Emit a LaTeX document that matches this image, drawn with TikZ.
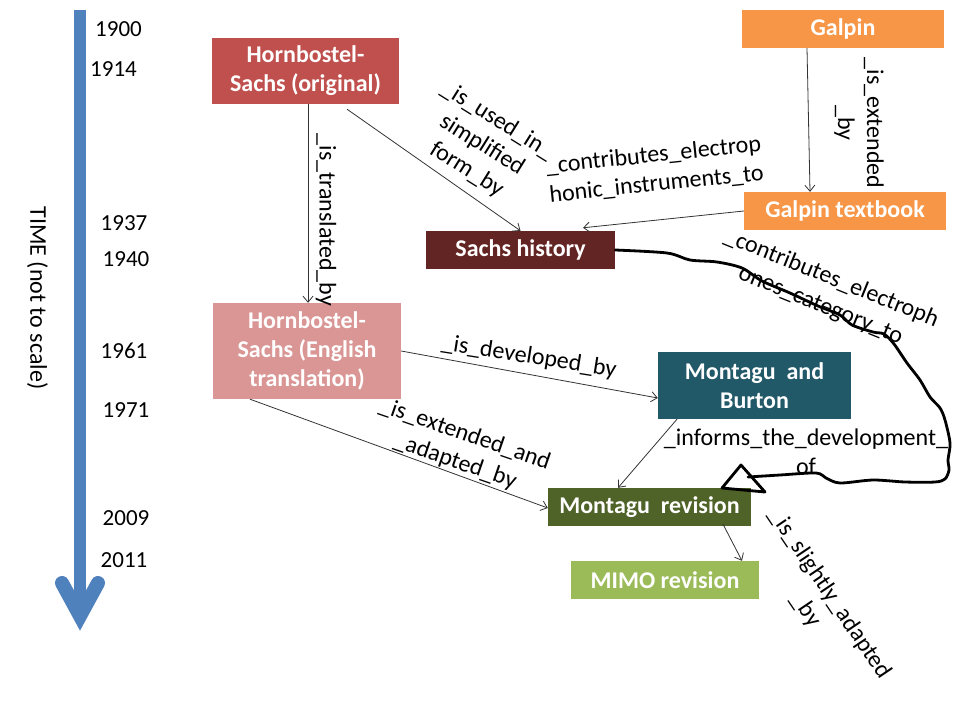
\documentclass[tikz,border=0pt]{standalone}
\usepackage{fontspec}
\setmainfont{Carlito}
\usetikzlibrary{arrows.meta,calc}
\definecolor{hsored}{HTML}{C0504D}
\definecolor{galor}{HTML}{F79646}
\definecolor{sachsred}{HTML}{632523}
\definecolor{hsepink}{HTML}{D99694}
\definecolor{mabteal}{HTML}{215968}
\definecolor{mrevgreen}{HTML}{4F6228}
\definecolor{mimogreen}{HTML}{9BBB59}
\definecolor{timeblue}{HTML}{4F81BD}
\begin{document}
\begin{tikzpicture}[x=1pt,y=-1pt,
  box/.style={fill=#1, text=white, font=\bfseries\fontsize{24}{29}\selectfont, align=center, inner sep=0pt},
  lab/.style={font=\fontsize{24}{29}\selectfont, align=center, inner sep=0pt},
  yr/.style={font=\fontsize{23}{27}\selectfont, inner sep=0pt},
  conn/.style={draw=black!80, line width=0.8pt, -{Straight Barb[length=6pt,width=10pt]}},
  hand/.style={draw=black, line width=2.8pt, line cap=round, line join=round}]
\useasboundingbox (0,0) rectangle (960,720);

% time arrow
\fill[timeblue] (74,10) rectangle (86,612);
\draw[timeblue, line width=14pt, line cap=round, line join=miter] (62,583) -- (80,616) -- (98,583);
\node[lab, rotate=-90] (time) at (37.5,298) {TIME (not to scale)};

% years
\node[yr] (y1900) at (118.5,29) {1900};
\node[yr] (y1914) at (113.5,69) {1914};
\node[yr] (y1937) at (124,223) {1937};
\node[yr] (y1940) at (126,259) {1940};
\node[yr] (y1961) at (124,351) {1961};
\node[yr] (y1971) at (126,410) {1971};
\node[yr] (y2009) at (126,518) {2009};
\node[yr] (y2011) at (124,560) {2011};

% boxes
\node[box=hsored, minimum width=187pt, minimum height=66pt] (hso) at (305.5,71) {Hornbostel-\\Sachs (original)};
\node[box=galor, minimum width=202pt, minimum height=38pt] (gal) at (843,29) {Galpin};
\node[box=galor, minimum width=202pt, minimum height=38pt] (galt) at (845,211) {Galpin textbook};
\node[box=sachsred, minimum width=189pt, minimum height=38pt] (sachs) at (520.5,250) {Sachs history};
\node[box=hsepink, minimum width=188pt, minimum height=96pt] (hse) at (307,351) {Hornbostel-\\Sachs (English\\translation)};
\node[box=mabteal, minimum width=193pt, minimum height=67pt] (mab) at (754.5,385.5) {Montagu\ \ and\\Burton};
\node[box=mrevgreen, minimum width=203pt, minimum height=38pt] (mrev) at (649.5,507) {Montagu\ \ revision};
\node[box=mimogreen, minimum width=188pt, minimum height=38pt] (mimo) at (665,580) {MIMO revision};

% connectors
\draw[conn] ([xshift=2.5pt]hso.south) -- ([xshift=1pt]hse.north);
\draw[conn] ([xshift=41.5pt,yshift=-5pt]hso.south) -- (sachs.north);
\draw[conn] ([xshift=-36pt]gal.south) -- ([xshift=-35pt]galt.north);
\draw[conn] (galt.west) -- ([xshift=62.5pt,yshift=3pt]sachs.north);
\draw[conn] (hse.east) -- ([yshift=-12.5pt]mab.west);
\draw[conn] ([xshift=-57pt]hse.south) -- ([yshift=-1pt]mrev.west);
\draw[conn] ([xshift=-77.5pt]mab.south) -- ([xshift=-31.5pt]mrev.north);
\draw[conn] ([xshift=73.5pt,yshift=2pt]mrev.south) -- ([xshift=77pt]mimo.north);

% hand-drawn connector
\coordinate (ctip) at (722,488);
\draw[hand] plot[smooth, tension=0.5] coordinates {(sachs.east) (667,253) (690,260) (717,262) (742,268) (762,281) (790,293) (818,306) (840,315) (852,325) (873,332) (884,334) (894,344) (907,363) (920,380) (930,397) (940,408) (945,420) (950,443) (948,460) (949,470) (945,479) (935,482) (905,482) (873,480) (840,483) (826,478) (816,473) (780,475) (748,477)};
\draw[hand] (ctip) -- (741,465) -- (765,492) -- cycle;

% labels
\node[lab, rotate=-90] (l1) at (326,220) {\_is\_translated\_by};
\node[lab, rotate=-32] (l2) at (482,145) {\_is\_used\_in\_\\simplified\\form\_by};
\node[lab, rotate=-90] (l3) at (859,123) {\_is\_extended\\\_by};
\node[lab, rotate=6] (l4) at (655,170) {\_contributes\_electrop\\honic\_instruments\_to};
\node[lab, rotate=-22] (l5) at (826,292) {\_contributes\_electroph\\ones\_category\_to};
\node[lab, rotate=-9] (l6) at (529,357) {\_is\_developed\_by};
\node[lab, rotate=-19] (l7) at (460,448) {\_is\_extended\_and\\\_adapted\_by};
\node[lab] (l8) at (806,452) {\_informs\_the\_development\_\\of};
\node[lab, rotate=-56] (l9) at (818,602) {\_is\_slightly\_adapted\\\_by};
\end{tikzpicture}
\end{document}
